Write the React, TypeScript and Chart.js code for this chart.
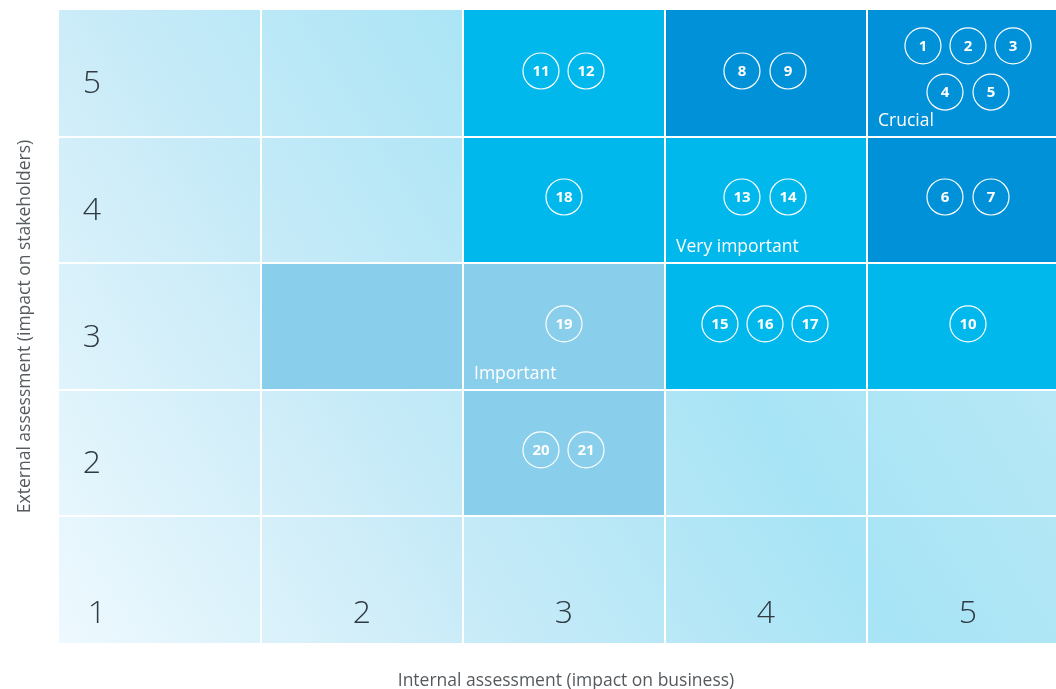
import React, { useEffect, useRef } from 'react';
import { Chart, registerables } from 'chart.js';

Chart.register(...registerables);

// ---- Data ----
const xTickLabels = ['1', '2', '3', '4', '5'];
const yTickLabels = ['1', '2', '3', '4', '5'];
const xAxisTitle = 'Internal assessment (impact on business)';
const yAxisTitle = 'External assessment (impact on stakeholders)';

// highlighted cells (x = internal, y = external) and their level index
const cellX = [3, 4, 5, 3, 4, 5, 2, 3, 4, 5, 3];
const cellY = [5, 5, 5, 4, 4, 4, 3, 3, 3, 3, 2];
const cellLevel = [1, 2, 2, 1, 1, 2, 0, 0, 1, 1, 0];

const levelNames = ['Important', 'Very important', 'Crucial'];
const levelColors = ['#89cfeb', '#00b8ec', '#0091d9'];
const levelLabelX = [3, 4, 5];
const levelLabelY = [3, 4, 5];

// material topics
const topicIds = [1, 2, 3, 4, 5, 6, 7, 8, 9, 10, 11, 12, 13, 14, 15, 16, 17, 18, 19, 20, 21];
const topicX = [4.777, 5.0, 5.223, 4.886, 5.114, 4.886, 5.114, 3.881, 4.109, 5.0, 2.886, 3.109, 3.881, 4.109, 3.772, 3.995, 4.218, 3.0, 3.0, 2.886, 3.109];
const topicY = [5.217, 5.217, 5.217, 4.852, 4.852, 4.023, 4.023, 5.018, 5.018, 3.02, 5.018, 5.018, 4.023, 4.023, 3.02, 3.02, 3.02, 4.023, 3.02, 2.025, 2.025];

const CANVAS_W = 1075;
const CANVAS_H = 689;

const matrixPlugin = {
  id: 'matrixPlugin',
  beforeDatasetsDraw(chart: any) {
    const { ctx, chartArea } = chart;
    const xs = chart.scales.x;
    const ys = chart.scales.y;
    const { left, right, top, bottom } = chartArea;
    ctx.save();
    // background gradient
    const g = ctx.createLinearGradient(left, bottom, right, top);
    g.addColorStop(0, '#eef9fe');
    g.addColorStop(0.3, '#c9ebf8');
    g.addColorStop(0.6, '#a7e4f5');
    g.addColorStop(0.82, '#b7e8f6');
    g.addColorStop(1, '#c6edf8');
    ctx.fillStyle = g;
    ctx.fillRect(left, top, right - left, bottom - top);

    // highlighted cells
    cellX.forEach((cx, i) => {
      const x0 = xs.getPixelForValue(cx - 0.5);
      const x1 = xs.getPixelForValue(cx + 0.5);
      const y0 = ys.getPixelForValue(cellY[i] + 0.5);
      const y1 = ys.getPixelForValue(cellY[i] - 0.5);
      ctx.fillStyle = levelColors[cellLevel[i]];
      ctx.fillRect(x0, y0, x1 - x0, y1 - y0);
    });

    // grid lines
    ctx.strokeStyle = '#ffffff';
    ctx.lineWidth = 2;
    for (let v = 1.5; v < 5.5; v += 1) {
      const px = Math.round(xs.getPixelForValue(v));
      ctx.beginPath();
      ctx.moveTo(px, top);
      ctx.lineTo(px, bottom);
      ctx.stroke();
      const py = Math.round(ys.getPixelForValue(v));
      ctx.beginPath();
      ctx.moveTo(left, py);
      ctx.lineTo(right, py);
      ctx.stroke();
    }

    // tick labels
    ctx.fillStyle = '#2f3a42';
    ctx.font = '300 32px "Open Sans", "Noto Sans", sans-serif';
    ctx.textAlign = 'center';
    ctx.textBaseline = 'alphabetic';
    const labelColX = left + 33;
    yTickLabels.forEach((t, i) => {
      if (i === 0) return;
      const v = i + 1;
      ctx.fillText(t, labelColX, ys.getPixelForValue(v) + 20);
    });
    xTickLabels.forEach((t, i) => {
      const v = i + 1;
      const px = i === 0 ? labelColX + 5 : xs.getPixelForValue(v);
      ctx.fillText(t, px, bottom - 20);
    });

    // level labels
    ctx.fillStyle = '#ffffff';
    ctx.font = '17.5px "Open Sans", "Noto Sans", sans-serif';
    ctx.textAlign = 'left';
    levelNames.forEach((name, i) => {
      const px = xs.getPixelForValue(levelLabelX[i] - 0.5) + 11;
      const py = ys.getPixelForValue(levelLabelY[i] - 0.5) - 11;
      ctx.fillText(name, px, py);
    });

    // axis titles
    ctx.fillStyle = '#555a5e';
    ctx.font = '17.5px "Open Sans", "Noto Sans", sans-serif';
    ctx.textAlign = 'center';
    ctx.fillText(xAxisTitle, (left + right) / 2 + 2, bottom + 43);
    ctx.save();
    ctx.translate(30, (top + bottom) / 2);
    ctx.rotate(-Math.PI / 2);
    ctx.fillText(yAxisTitle, 0, 0);
    ctx.restore();
    ctx.restore();
  },
  afterDatasetsDraw(chart: any) {
    const { ctx } = chart;
    const meta = chart.getDatasetMeta(0);
    ctx.save();
    ctx.fillStyle = '#ffffff';
    ctx.font = 'bold 15px "Open Sans", "Noto Sans", sans-serif';
    ctx.textAlign = 'center';
    ctx.textBaseline = 'middle';
    meta.data.forEach((pt: any, i: number) => {
      ctx.fillText(String(topicIds[i]), pt.x, pt.y + 1);
    });
    ctx.restore();
  },
};

export default function App() {
  const ref = useRef<HTMLCanvasElement | null>(null);
  useEffect(() => {
    if (!ref.current) return;
    const chart = new Chart(ref.current, {
      type: 'scatter',
      data: {
        datasets: [
          {
            data: topicX.map((x, i) => ({ x, y: topicY[i] })),
            pointRadius: 18,
            pointHoverRadius: 18,
            pointBackgroundColor: 'rgba(0,0,0,0)',
            pointBorderColor: '#ffffff',
            pointBorderWidth: 1.2,
            clip: false,
          } as any,
        ],
      },
      options: {
        responsive: false,
        animation: false,
        layout: {
          autoPadding: false,
          padding: { left: 59, top: 10, right: CANVAS_W - 1069, bottom: CANVAS_H - 643 },
        },
        scales: {
          x: { type: 'linear', min: 0.5, max: 5.5, display: false },
          y: { type: 'linear', min: 0.5, max: 5.5, display: false },
        },
        plugins: { legend: { display: false }, tooltip: { enabled: false } },
        events: [],
      } as any,
      plugins: [matrixPlugin],
    });
    return () => chart.destroy();
  }, []);
  return (
    <div style={{ position: 'fixed', left: 0, top: 0, width: 1056, height: 689, overflow: 'hidden', background: '#fff' }}>
      <canvas ref={ref} width={CANVAS_W} height={CANVAS_H} style={{ width: CANVAS_W, height: CANVAS_H, display: 'block' }} />
    </div>
  );
}
